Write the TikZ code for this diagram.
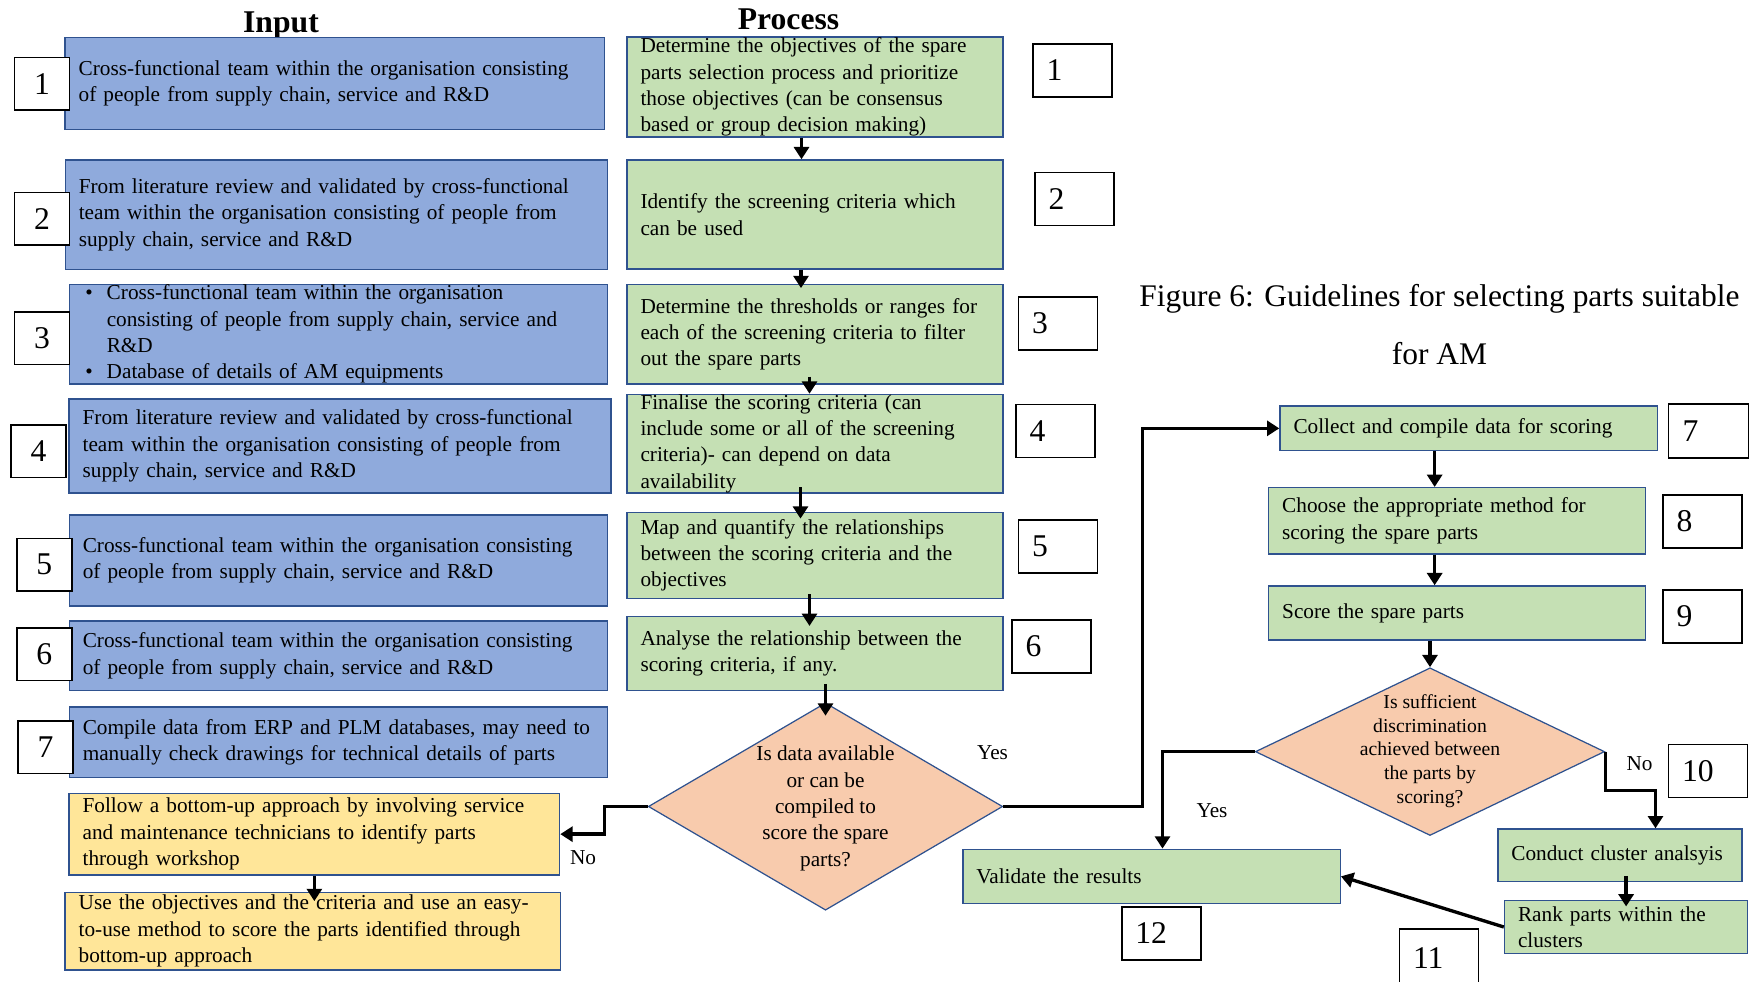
\documentclass[tikz,border=0pt]{standalone}
\usepackage{fontspec}
\setmainfont{Liberation Serif}
\usetikzlibrary{arrows.meta,shapes.geometric}

\definecolor{inblue}{HTML}{8FAADC}
\definecolor{procgreen}{HTML}{C5E0B4}
\definecolor{altyellow}{HTML}{FFE699}
\definecolor{decpeach}{HTML}{F8CBAD}
\definecolor{edgeblue}{HTML}{2F528F}

\begin{document}
\begin{tikzpicture}[
    box/.style={rectangle, draw=edgeblue, line width=0.8pt, align=left, inner xsep=0.27cm, inner ysep=0pt, font=\fontsize{12.1}{15}\selectfont},
    inbox/.style={box, fill=inblue},
    procbox/.style={box, fill=procgreen},
    altbox/.style={box, fill=altyellow},
    numbox/.style={rectangle, draw=black, line width=0.9pt, fill=white, minimum width=1.1cm, minimum height=1.05cm, inner sep=0pt, font=\fontsize{18}{18}\selectfont},
    stepno/.style={numbox, minimum width=1.58cm, minimum height=1.06cm, text width=1.04cm, inner xsep=0.27cm, align=left},
    decision/.style={diamond, draw=edgeblue, line width=0.7pt, fill=decpeach, inner sep=0pt},
    dtext/.style={align=center, font=\fontsize{12.1}{15}\selectfont},
    flow/.style={-{Triangle[width=8.5pt,length=7pt]}, line width=1.9pt},
    lbl/.style={font=\fontsize{12.1}{15}\selectfont},
    coltitle/.style={font=\fontsize{18}{18}\selectfont\bfseries, anchor=base}
]
\useasboundingbox (0,0) rectangle (35.06,-19.64);

% ===== COLUMN TITLES =====
\node[coltitle] (in_title) at (5.62,-0.65) {Input};
\node[coltitle] (pr_title) at (15.77,-0.6) {Process};

% ===== LEFT: INPUT COLUMN =====
\node[inbox, text width=10.24cm, minimum height=1.84cm] (in1) at (6.694,-1.667) {Cross-functional team within the organisation consisting\\of people from supply chain, service and R\&D};
\node[inbox, text width=10.31cm, minimum height=2.187cm] (in2) at (6.73,-4.293) {From literature review and validated by cross-functional\\team within the organisation consisting of people from\\supply chain, service and R\&D};
\node[inbox, text width=10.23cm, minimum height=1.993cm] (in3) at (6.77,-6.683) {%
\hspace*{0.05cm}\makebox[0.43cm][l]{\textbullet}Cross-functional team within the organisation\\
\hspace*{0.48cm}consisting of people from supply chain, service and\\
\hspace*{0.48cm}R\&D\\
\hspace*{0.05cm}\makebox[0.43cm][l]{\textbullet}Database of details of AM equipments};
\node[inbox, text width=10.3cm, minimum height=1.88cm] (in4) at (6.802,-8.92) {From literature review and validated by cross-functional\\team within the organisation consisting of people from\\supply chain, service and R\&D};
\node[inbox, text width=10.23cm, minimum height=1.82cm] (in5) at (6.77,-11.21) {Cross-functional team within the organisation consisting\\of people from supply chain, service and R\&D};
\node[inbox, text width=10.23cm, minimum height=1.394cm] (in6) at (6.77,-13.117) {Cross-functional team within the organisation consisting\\of people from supply chain, service and R\&D};
\node[inbox, text width=10.23cm, minimum height=1.414cm] (in7) at (6.77,-14.847) {Compile data from ERP and PLM databases, may need to\\manually check drawings for technical details of parts};

% bottom-up alternative
\node[altbox, text width=9.27cm, minimum height=1.633cm] (alt1) at (6.287,-16.683) {Follow a bottom-up approach by involving service\\and maintenance technicians to identify parts\\through workshop};
\node[altbox, text width=9.37cm, minimum height=1.553cm] (alt2) at (6.259,-18.623) {Use the objectives and the criteria and use an easy-\\to-use method to score the parts identified through\\bottom-up approach};

% input step numbers
\node[numbox] (n1) at (0.842,-1.673) {1};
\node[numbox] (n2) at (0.842,-4.377) {2};
\node[numbox] (n3) at (0.842,-6.767) {3};
\node[numbox] (n4) at (0.77,-9.027) {4};
\node[numbox] (n5) at (0.886,-11.293) {5};
\node[numbox] (n6) at (0.886,-13.083) {6};
\node[numbox] (n7) at (0.91,-14.943) {7};

% ===== CENTER: PROCESS COLUMN =====
\node[procbox, text width=6.98cm, minimum height=2.0cm] (p1) at (16.3,-1.74) {Determine the objectives of the spare\\parts selection process and prioritize\\those objectives (can be consensus\\based or group decision making)};
\node[procbox, text width=6.98cm, minimum height=2.18cm] (p2) at (16.3,-4.29) {Identify the screening criteria which\\can be used};
\node[procbox, text width=6.98cm, minimum height=1.993cm] (p3) at (16.3,-6.683) {Determine the thresholds or ranges for\\each of the screening criteria to filter\\out the spare parts};
\node[procbox, text width=6.98cm, minimum height=1.947cm] (p4) at (16.3,-8.873) {Finalise the scoring criteria (can\\include some or all of the screening\\criteria)- can depend on data\\availability};
\node[procbox, text width=6.98cm, minimum height=1.72cm] (p5) at (16.3,-11.107) {Map and quantify the relationships\\between the scoring criteria and the\\objectives};
\node[procbox, text width=6.98cm, minimum height=1.48cm] (p6) at (16.3,-13.073) {Analyse the relationship between the\\scoring criteria, if any.};

\node[decision, minimum width=7.086cm, minimum height=4.148cm] (d1) at (16.51,-16.13) {};
\node[dtext] (d1_text) at (16.51,-16.17) {Is data available\\or can be\\compiled to\\score the spare\\parts?};

% process step numbers
\node[stepno] (r1) at (21.45,-1.41) {1};
\node[stepno] (r2) at (21.49,-3.98) {2};
\node[stepno] (r3) at (21.16,-6.47) {3};
\node[stepno] (r4) at (21.11,-8.62) {4};
\node[stepno] (r5) at (21.16,-10.93) {5};
\node[stepno] (r6) at (21.03,-12.93) {6};

% ===== RIGHT: SCORING =====
\node[font=\fontsize{17.9}{33}\selectfont, align=center] (caption) at (28.79,-6.5) {Figure 6: Guidelines for selecting parts suitable\\for AM};

\node[procbox, text width=7.006cm, minimum height=0.893cm] (b7) at (29.373,-8.567) {Collect and compile data for scoring};
\node[procbox, text width=6.998cm, minimum height=1.327cm] (b8) at (29.143,-10.417) {Choose the appropriate method for\\scoring the spare parts};
\node[procbox, text width=6.998cm, minimum height=1.08cm] (b9) at (29.143,-12.26) {Score the spare parts};

\node[decision, minimum width=6.984cm, minimum height=3.354cm] (d2) at (28.6,-15.033) {};
\node[dtext, font=\fontsize{11.2}{13.5}\selectfont] (d2_text) at (28.6,-15.02) {Is sufficient\\discrimination\\achieved between\\the parts by\\scoring?};

\node[procbox, text width=4.344cm, minimum height=1.053cm] (cl) at (32.4,-17.107) {Conduct cluster analsyis};
\node[procbox, text width=4.324cm, minimum height=1.053cm] (rk) at (32.522,-18.54) {Rank parts within the\\clusters};
\node[procbox, text width=7.008cm, minimum height=1.08cm] (val) at (23.03,-17.527) {Validate the results};

% scoring step numbers
\node[stepno, minimum width=1.6cm, minimum height=1.087cm] (r7) at (34.17,-8.62) {7};
\node[stepno] (r8) at (34.05,-10.43) {8};
\node[stepno] (r9) at (34.05,-12.33) {9};
\node[stepno] (r10) at (34.16,-15.42) {10};
\node[stepno, minimum height=1.15cm] (r11) at (28.78,-19.16) {11};
\node[stepno] (r12) at (23.225,-18.667) {12};

% ===== CONNECTORS =====
\draw[flow] ([xshift=-0.27cm]p1.south) -- ([xshift=-0.27cm]p2.north);
\draw[flow] ([xshift=-0.28cm]p2.south) -- ([xshift=-0.28cm, yshift=-0.09cm]p3.north);
\draw[flow] ([xshift=-0.11cm, yshift=0.16cm]p3.south) -- ([xshift=-0.11cm]p4.north);
\draw[flow] ([xshift=-0.29cm, yshift=0.13cm]p4.south) -- ([xshift=-0.29cm, yshift=-0.14cm]p5.north);
\draw[flow] ([xshift=-0.11cm, yshift=0.1cm]p5.south) -- ([xshift=-0.11cm, yshift=-0.2cm]p6.north);
\draw[flow] ([yshift=0.15cm]p6.south -| d1.north) -- ([yshift=-0.27cm]d1.north);

% decision on data
\draw[flow] (d1.east) -- ++(2.79,0) |- (b7.west);
\draw[flow] (d1.west) -- ++(-0.87,0) |- (alt1.east);
\draw[flow] (alt1.south) -- ([yshift=-0.19cm]alt1.south |- alt2.north);
\node[lbl] (yes1) at (19.85,-15.05) {Yes};
\node[lbl] (no1) at (11.66,-17.15) {No};

% scoring flow
\draw[flow] ([xshift=-0.68cm]b7.south) -- ([xshift=-0.45cm]b8.north);
\draw[flow] ([xshift=-0.45cm]b8.south) -- ([xshift=-0.45cm]b9.north);
\draw[flow] (b9.south -| d2.north) -- (d2.north);
\draw[flow] (d2.west) -| ([xshift=0.22cm]val.north);
\draw[flow] (d2.east) -- ++(0,-0.78) -| ([xshift=0.71cm]cl.north);
\draw[flow] ([yshift=0.13cm]cl.south -| rk.north) -- ([yshift=-0.13cm]rk.north);
\draw[flow] (rk.west) -- (val.east);
\node[lbl] (yes2) at (24.24,-16.21) {Yes};
\node[lbl] (no2) at (32.79,-15.28) {No};

\end{tikzpicture}
\end{document}
